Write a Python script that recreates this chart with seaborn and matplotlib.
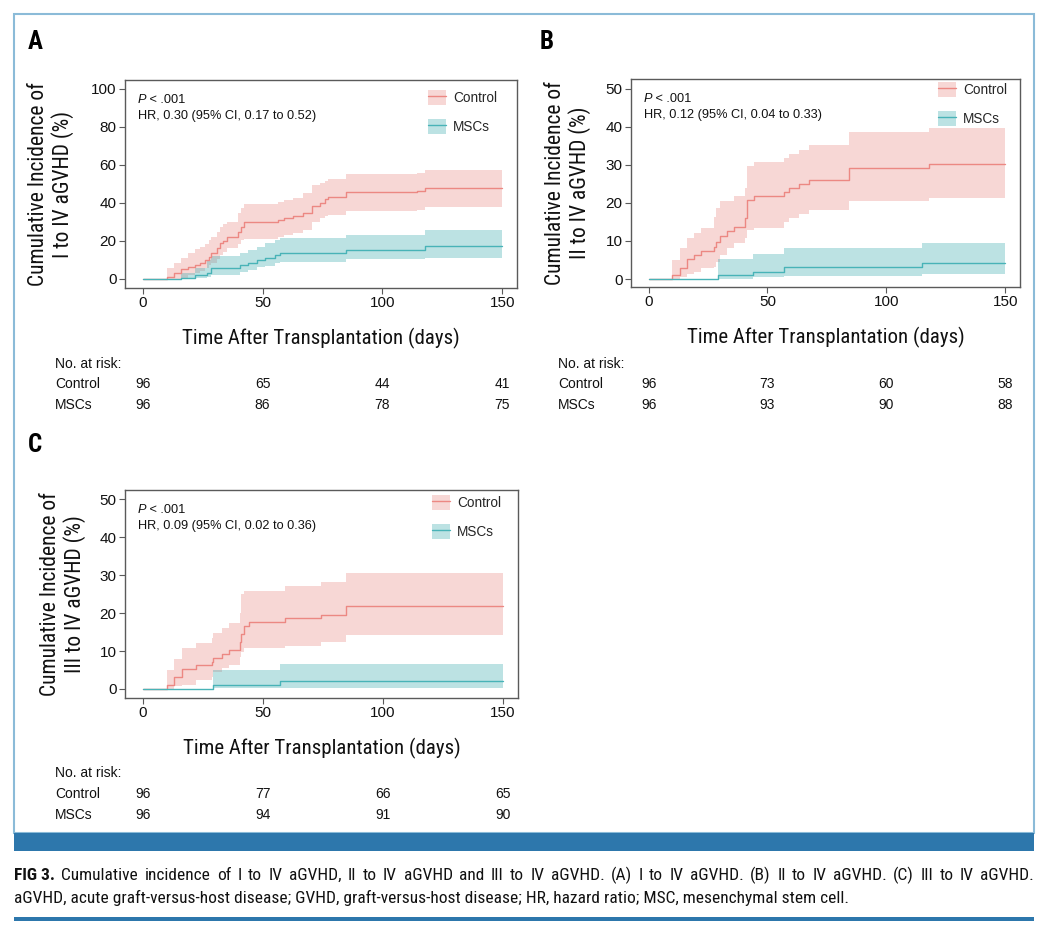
import matplotlib
matplotlib.use('Agg')
import matplotlib.pyplot as plt
import matplotlib.transforms as mtransforms
from matplotlib.patches import Patch, Rectangle
from matplotlib.lines import Line2D
from matplotlib import font_manager
import seaborn as sns

# ---- values ----
tick_days = [0, 50, 100, 150]
groups = ['Control', 'MSCs']

# Panel A: I to IV aGVHD
a_ctrl_t = [0, 10, 13, 16, 19, 22, 24, 26, 27.6, 28.7, 30.8, 32.2, 33.3, 35, 39.8, 41.2, 42.2,
            56.5, 58.9, 62.8, 67, 70.8, 73.9, 76, 77.3, 85, 114.5, 117.6, 150]
a_ctrl_y = [0, 1.0, 3.0, 5.1, 6.5, 7.4, 8.6, 10.0, 11.4, 13.5, 16.1, 18.8, 20.2, 21.9, 24.9, 27.5, 30.2,
            31.0, 31.9, 33.3, 34.9, 38.4, 39.8, 41.9, 43.3, 45.6, 46.5, 47.7, 47.7]
a_ctrl_hi = [0, 5.6, 8.2, 10.9, 13.5, 15.6, 17.0, 18.4, 20.5, 22.0, 24.9, 27.5, 29.0, 30.2, 34.6, 37.2, 39.3,
             40.7, 41.6, 42.5, 45.1, 49.5, 50.7, 51.8, 52.5, 55.3, 56.0, 57.4, 57.4]
a_ctrl_lo = [0, 0, 0, 0.7, 2.1, 3.0, 4.4, 5.6, 7.4, 8.5, 10.5, 12.5, 14.4, 16.1, 18.4, 20.5, 20.9,
             22.3, 23.2, 24.4, 25.8, 30.2, 31.9, 33.0, 33.7, 35.8, 36.3, 37.7, 37.7]
a_msc_t = [0, 15.8, 21.8, 26.7, 28.7, 40.5, 44, 47.5, 51, 55.1, 57.2, 85, 117.6, 150]
a_msc_y = [0, 0.7, 2.1, 3.3, 5.6, 7.4, 8.2, 10.0, 10.9, 12.6, 13.5, 15.3, 17.5, 17.5]
a_msc_hi = [0, 3.0, 5.6, 10.0, 12.1, 13.5, 15.3, 17.0, 18.8, 20.5, 21.4, 23.2, 25.8, 25.8]
a_msc_lo = [0, 0, 0.35, 1.2, 2.1, 3.9, 4.7, 6.1, 6.8, 8.2, 9.1, 10.5, 11.0, 11.0]

# Panel B: II to IV aGVHD
b_ctrl_t = [0, 9.8, 13.3, 16.3, 19.1, 22.2, 27.5, 28.2, 29.9, 33.1, 35.9, 40.5, 41.5, 44.3,
            56.8, 58.9, 63.1, 67.3, 84.3, 117.8, 150]
b_ctrl_y = [0, 1.05, 3.0, 5.2, 6.3, 7.4, 8.5, 9.8, 11.4, 12.6, 13.8, 16.0, 20.8, 21.9,
            22.8, 23.9, 24.9, 26.0, 29.3, 30.2, 30.2]
b_ctrl_hi = [0, 5.0, 8.1, 10.9, 12.0, 13.5, 16.4, 18.8, 20.4, 20.4, 21.7, 23.9, 29.6, 30.7,
             31.8, 32.8, 33.9, 35.3, 38.6, 39.6, 39.6]
b_ctrl_lo = [0, 0, 0.6, 1.2, 1.9, 3.0, 3.2, 4.6, 6.3, 8.1, 9.4, 10.7, 12.9, 13.3,
             15.1, 16.0, 17.0, 18.2, 20.4, 21.4, 21.4]
b_msc_t = [0, 29, 43.8, 56.8, 115, 150]
b_msc_y = [0, 1.05, 1.9, 3.1, 4.1, 4.1]
b_msc_hi = [0, 5.2, 6.6, 8.1, 9.6, 9.6]
b_msc_lo = [0, 0.1, 0.4, 0.8, 1.3, 1.3]

# Panel C: III to IV aGVHD
c_ctrl_t = [0, 10, 13.2, 16.2, 22.2, 28.7, 29.2, 33, 36.1, 40.3, 41, 42.2, 44.3, 59.3, 74.3, 84.6, 150]
c_ctrl_y = [0, 1.0, 3.1, 5.2, 6.2, 7.2, 8.1, 9.2, 10.3, 12.5, 14.5, 16.6, 17.7, 18.6, 19.6, 21.8, 21.8]
c_ctrl_hi = [0, 5.0, 8.0, 10.7, 12.2, 13.5, 14.8, 16.1, 17.5, 20.1, 24.9, 25.9, 25.9, 27.1, 28.2, 30.6, 30.6]
c_ctrl_lo = [0, 0, 0.8, 1.1, 2.4, 3.2, 4.4, 5.4, 6.3, 8.5, 9.8, 10.7, 10.7, 11.4, 12.5, 14.2, 14.2]
c_msc_t = [0, 29.2, 57.2, 150]
c_msc_y = [0, 1.05, 2.1, 2.1]
c_msc_hi = [0, 5.0, 6.5, 6.5]
c_msc_lo = [0, 0.2, 0.3, 0.3]

# numbers at risk (at 0, 50, 100, 150 days)
a_risk_ctrl = [96, 65, 44, 41]
a_risk_msc = [96, 86, 78, 75]
b_risk_ctrl = [96, 73, 60, 58]
b_risk_msc = [96, 93, 90, 88]
c_risk_ctrl = [96, 77, 66, 65]
c_risk_msc = [96, 94, 91, 90]

a_hr = 'HR, 0.30 (95% CI, 0.17 to 0.52)'
b_hr = 'HR, 0.12 (95% CI, 0.04 to 0.33)'
c_hr = 'HR, 0.09 (95% CI, 0.02 to 0.36)'
a_ylabel = 'Cumulative Incidence of\nI to IV aGVHD (%)'
b_ylabel = 'Cumulative Incidence of\nII to IV aGVHD (%)'
c_ylabel = 'Cumulative Incidence of\nIII to IV aGVHD (%)'
xlabel = 'Time After Transplantation (days)'
caption1 = ('Cumulative incidence of I to IV aGVHD, II to IV aGVHD and III to IV aGVHD. '
            '(A) I to IV aGVHD. (B) II to IV aGVHD. (C) III to IV aGVHD.')
caption2 = ('aGVHD, acute graft-versus-host disease; GVHD, graft-versus-host disease; '
            'HR, hazard ratio; MSC, mesenchymal stem cell.')

# ---- style ----
sns.set_style('white')
plain = ['Liberation Sans', 'DejaVu Sans']
plt.rcParams['font.family'] = plain


def have_font(name):
    try:
        font_manager.findfont(font_manager.FontProperties(family=name), fallback_to_default=False)
        return True
    except Exception:
        return False


# condensed face if one exists, otherwise shrink the regular face to the same widths
narrow_name = next((n for n in ['Roboto Condensed', 'Liberation Sans Narrow', 'DejaVu Sans Condensed']
                    if have_font(n)), None)
if narrow_name:
    narrow = [narrow_name, 'DejaVu Sans']
    xlab_fs, ylab_fs, cap_fs, let_fs = 15, 15.5, 12.5, 18
else:
    narrow = plain
    xlab_fs, ylab_fs, cap_fs, let_fs = 13.8, 14, 10.0, 17

ctrl_line, ctrl_fill = '#EC8883', '#EA8A85'
msc_line, msc_fill = '#48B3B7', '#3CAAAF'
spine_col = '#5a5a5a'
dark_blue = '#2D77AC'
txt = '#111111'

W, H = 1047, 930
fig = plt.figure(figsize=(W / 100, H / 100), dpi=100)


def px_axes(l, t, r, b):
    return fig.add_axes([l / W, 1 - b / H, (r - l) / W, (b - t) / H])


def draw_panel(ax, curves, ylim, yticks, ylabel, ylab_x, hr, risk, leg_xy, row_x, row_ys):
    for t, y, lo, hi, lc, fc in curves:
        ax.fill_between(t, lo, hi, step='post', color=fc, alpha=0.34, lw=0)
    for t, y, lo, hi, lc, fc in curves:
        sns.lineplot(x=t, y=y, ax=ax, color=lc, lw=1.0, drawstyle='steps-post',
                     sort=False, legend=False)
    ax.set_xlim(-7.4, 156.2)
    ax.set_ylim(*ylim)
    ax.set_xticks(tick_days)
    ax.set_yticks(yticks)
    for s in ax.spines.values():
        s.set_visible(True)
        s.set_color(spine_col)
        s.set_linewidth(1.0)
    ax.tick_params(direction='out', length=4, width=0.8, color=spine_col, pad=2,
                   labelsize=11, labelcolor=txt, bottom=True, left=True)
    ax.set_xlabel(xlabel, fontsize=xlab_fs, family=narrow, color=txt, va='center')
    ax.xaxis.set_label_coords(0.5, -50 / 208)
    ax.set_ylabel(ylabel, fontsize=ylab_fs, family=narrow, color=txt, va='center',
                  linespacing=1.15)
    ax.yaxis.set_label_coords(ylab_x, 0.5)

    # P value and hazard ratio
    p = ax.text(0.033, 0.904, 'P', transform=ax.transAxes, fontsize=9.2, style='italic',
                va='center', color=txt)
    ax.annotate(' < .001', xy=(1, 0), xycoords=p, va='bottom', fontsize=9.2, color=txt)
    ax.text(0.033, 0.827, hr, transform=ax.transAxes, fontsize=9.2, va='center', color=txt)

    handles = [(Patch(facecolor=c[5], alpha=0.34, lw=0), Line2D([], [], color=c[4], lw=1.0))
               for c in curves]
    ax.legend(handles, groups, loc='upper left', bbox_to_anchor=leg_xy, frameon=False,
              borderpad=0, borderaxespad=0, handlelength=1.3, handleheight=1.35,
              handletextpad=0.55, labelspacing=1.0, fontsize=9.8)

    # numbers at risk
    blend = mtransforms.blended_transform_factory(ax.transData, fig.transFigure)
    fig.text(row_x / W, 1 - row_ys[0] / H, 'No. at risk:', fontsize=10, va='center', color=txt)
    for name, vals, yy in zip(groups, risk, row_ys[1:]):
        fig.text(row_x / W, 1 - yy / H, name, fontsize=10, va='center', color=txt)
        for d, v in zip(tick_days, vals):
            ax.text(d, 1 - yy / H, str(v), transform=blend, ha='center', va='center',
                    fontsize=10, color=txt)


ax_a = px_axes(125, 80, 517, 288)
ax_b = px_axes(631, 79, 1020, 287)
ax_c = px_axes(125, 490, 518, 698)

draw_panel(ax_a,
           [(a_ctrl_t, a_ctrl_y, a_ctrl_lo, a_ctrl_hi, ctrl_line, ctrl_fill),
            (a_msc_t, a_msc_y, a_msc_lo, a_msc_hi, msc_line, msc_fill)],
           (-4.74, 104.7), [0, 20, 40, 60, 80, 100], a_ylabel, -74 / 392, a_hr,
           [a_risk_ctrl, a_risk_msc], (0.773, 0.952), 55, [364, 384, 405])
draw_panel(ax_b,
           [(b_ctrl_t, b_ctrl_y, b_ctrl_lo, b_ctrl_hi, ctrl_line, ctrl_fill),
            (b_msc_t, b_msc_y, b_msc_lo, b_msc_hi, msc_line, msc_fill)],
           (-2.1, 52.6), [0, 10, 20, 30, 40, 50], b_ylabel, -63 / 389, b_hr,
           [b_risk_ctrl, b_risk_msc], (0.789, 0.986), 558, [364, 384, 405])
draw_panel(ax_c,
           [(c_ctrl_t, c_ctrl_y, c_ctrl_lo, c_ctrl_hi, ctrl_line, ctrl_fill),
            (c_msc_t, c_msc_y, c_msc_lo, c_msc_hi, msc_line, msc_fill)],
           (-2.37, 52.4), [0, 10, 20, 30, 40, 50], c_ylabel, -62 / 393, c_hr,
           [c_risk_ctrl, c_risk_msc], (0.781, 0.976), 55, [773, 794, 815])

# panel letters
for letter, x, y in [('A', 28, 42), ('B', 540, 42), ('C', 28, 445)]:
    fig.text(x / W, 1 - y / H, letter, fontsize=let_fs, fontweight='bold', va='center',
             family=narrow, color='#000000')

# frame, blue bars and caption
fig.add_artist(Rectangle((14 / W, 1 - 833 / H), 1020 / W, 819 / H, transform=fig.transFigure,
                         fill=False, edgecolor='#8BBBD8', lw=1.5))
fig.add_artist(Rectangle((14 / W, 1 - 851 / H), 1020 / W, 18 / H, transform=fig.transFigure,
                         facecolor=dark_blue, edgecolor='none'))
fig.add_artist(Rectangle((14 / W, 1 - 921 / H), 1020 / W, 4 / H, transform=fig.transFigure,
                         facecolor=dark_blue, edgecolor='none'))

# first caption line is justified across the frame width, as in the journal layout
words = [('FIG 3.', 'bold')] + [(w, 'normal') for w in caption1.split(' ')]
word_txt = [fig.text(0, 1 - 875 / H, w, fontsize=cap_fs, fontweight=fw, family=narrow,
                     va='center', color=txt) for w, fw in words]
renderer = fig.canvas.get_renderer()
widths = [t.get_window_extent(renderer).width for t in word_txt]
gap = (1034 - 14 - sum(widths)) / (len(widths) - 1)
gap = min(gap, 10)
x = 14
for t, w in zip(word_txt, widths):
    t.set_x(x / W)
    x += w + gap
fig.text(14 / W, 1 - 898 / H, caption2, fontsize=cap_fs, family=narrow, va='center', color=txt)

fig.savefig('out.png', dpi=100)
